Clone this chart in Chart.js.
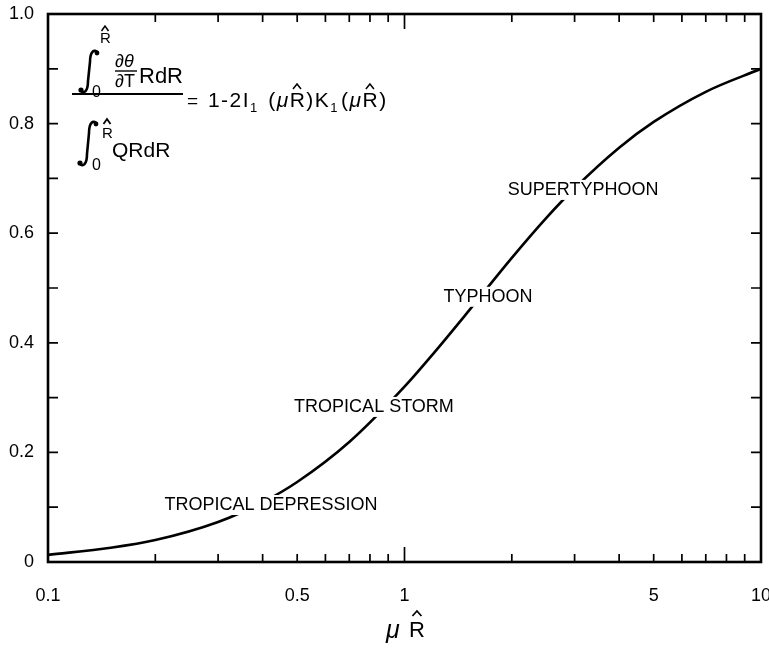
<!DOCTYPE html>
<html>
<head>
<meta charset="utf-8">
<script src="https://cdn.jsdelivr.net/npm/chart.js@4"></script>
<style>
  body { margin: 0; background: #fff; }
  #wrap { width: 769px; height: 653px; }
</style>
</head>
<body>
<div id="wrap"><canvas id="myChart"></canvas></div>
<script>
// values
const muR = [0.1, 0.15, 0.2, 0.3, 0.4, 0.5, 0.7, 1, 1.2, 1.5, 2, 2.5, 3, 4, 5, 7, 10];
const ratio = [0.013, 0.026, 0.040, 0.073, 0.109, 0.146, 0.219, 0.320, 0.379, 0.455, 0.555, 0.628, 0.682, 0.756, 0.803, 0.858, 0.900];

const xTickValues = [0.1, 0.5, 1, 5, 10];
const xTickLabels = ["0.1", "0.5", "1", "5", "10"];
const yTickLabels = ["0", "0.2", "0.4", "0.6", "0.8", "1.0"];

const stageNames = ["TROPICAL DEPRESSION", "TROPICAL STORM", "TYPHOON", "SUPERTYPHOON"];
const stageX = [0.422, 0.821, 1.715, 3.17];
const stageY = [0.104, 0.283, 0.484, 0.679];

const FONT = "'Liberation Sans', Arial, sans-serif";

function hat(ctx, cx, y, w) {
  ctx.beginPath();
  ctx.moveTo(cx - w, y + 5);
  ctx.lineTo(cx, y);
  ctx.lineTo(cx + w, y + 5);
  ctx.stroke();
}

function integral(ctx, x, top, bottom) {
  ctx.save();
  ctx.lineWidth = 2.6;
  ctx.beginPath();
  ctx.moveTo(x - 9, bottom - 3);
  ctx.bezierCurveTo(x - 5, bottom + 2, x - 1, bottom - 2, x - 1, bottom - 12);
  ctx.lineTo(x + 1, top + 12);
  ctx.bezierCurveTo(x + 1, top + 2, x + 5, top - 2, x + 9, top + 3);
  ctx.stroke();
  ctx.beginPath();
  ctx.arc(x - 8, bottom - 3, 2.6, 0, Math.PI * 2);
  ctx.arc(x + 8, top + 3, 2.4, 0, Math.PI * 2);
  ctx.fill();
  ctx.restore();
}

function text(ctx, s, x, y, size, style) {
  ctx.font = (style || "") + " " + size + "px " + FONT;
  ctx.fillText(s, x, y);
  return x + ctx.measureText(s).width;
}

function drawFormula(ctx) {
  ctx.save();
  ctx.fillStyle = "#000";
  ctx.strokeStyle = "#000";
  ctx.lineWidth = 1.5;
  ctx.textBaseline = "alphabetic";
  ctx.textAlign = "left";

  // numerator
  integral(ctx, 89, 50, 93);
  text(ctx, "R", 100, 43, 15);
  hat(ctx, 105, 26, 3.5);
  text(ctx, "0", 92, 97, 16);
  text(ctx, "\u2202\u03b8", 115, 67, 18, "italic");
  ctx.lineWidth = 1.4;
  ctx.beginPath(); ctx.moveTo(115, 71); ctx.lineTo(137, 71); ctx.stroke();
  text(ctx, "\u2202T", 115, 87, 18);
  text(ctx, "RdR", 139, 83, 22);

  // main bar
  ctx.lineWidth = 1.8;
  ctx.beginPath(); ctx.moveTo(72, 94); ctx.lineTo(183, 94); ctx.stroke();

  // denominator
  integral(ctx, 88, 121, 166);
  text(ctx, "R", 102, 138, 15);
  hat(ctx, 107, 119, 3.5);
  text(ctx, "0", 92, 170, 16);
  text(ctx, "QRdR", 112, 157, 21);

  // right-hand side
  ctx.lineWidth = 1.5;
  ctx.letterSpacing = "1.5px";
  let x = text(ctx, "=", 187, 107, 19);
  x = text(ctx, " 1-2I", x + 1, 107, 21);
  x = text(ctx, "1", x, 112, 13);
  x = text(ctx, " (", x + 2, 107, 21);
  x = text(ctx, "\u03bc", x, 107, 21, "italic");
  let rx = x;
  x = text(ctx, "R", x, 107, 21);
  hat(ctx, (rx + x) / 2 - 1, 84, 4);
  x = text(ctx, ")K", x, 107, 21);
  x = text(ctx, "1", x, 112, 13);
  x = text(ctx, "(", x + 2, 107, 21);
  x = text(ctx, "\u03bc", x, 107, 21, "italic");
  rx = x;
  x = text(ctx, "R", x, 107, 21);
  hat(ctx, (rx + x) / 2 - 1, 84, 4);
  text(ctx, ")", x, 107, 21);
  ctx.restore();
}

const framePlugin = {
  id: "frame",
  afterDatasetsDraw(chart) {
    const ctx = chart.ctx;
    const a = chart.chartArea;
    const xs = chart.scales.x;
    const ys = chart.scales.y;

    // stage labels sit on the curve with a white gap
    ctx.save();
    ctx.font = "18px " + FONT;
    ctx.textBaseline = "middle";
    ctx.textAlign = "center";
    for (let i = 0; i < stageNames.length; i++) {
      const px = xs.getPixelForValue(stageX[i]);
      const py = ys.getPixelForValue(stageY[i]);
      const w = ctx.measureText(stageNames[i]).width;
      ctx.fillStyle = "#fff";
      ctx.fillRect(px - w / 2 - 2, py - 10, w + 4, 20);
      ctx.fillStyle = "#000";
      ctx.fillText(stageNames[i], px, py);
    }
    ctx.restore();

    // box
    ctx.save();
    ctx.strokeStyle = "#000";
    ctx.lineWidth = 2.6;
    ctx.strokeRect(a.left, a.top, a.right - a.left, a.bottom - a.top);

    // inward ticks
    ctx.lineWidth = 1.7;
    ctx.beginPath();
    for (let d = 0.1; d < 10; d *= 10) {
      for (let k = 1; k <= 9; k++) {
        const v = d * k;
        if (v <= 0.1 + 1e-9) continue;
        const px = xs.getPixelForValue(v);
        const len = k === 1 ? 15 : 8;
        ctx.moveTo(px, a.bottom); ctx.lineTo(px, a.bottom - len);
        ctx.moveTo(px, a.top); ctx.lineTo(px, a.top + len);
      }
    }
    for (let k = 1; k <= 9; k++) {
      const py = ys.getPixelForValue(k / 10);
      ctx.moveTo(a.left, py); ctx.lineTo(a.left + 10, py);
      ctx.moveTo(a.right, py); ctx.lineTo(a.right - 10, py);
    }
    ctx.stroke();
    ctx.restore();

    drawFormula(ctx);

    // axis title
    ctx.save();
    ctx.fillStyle = "#000";
    ctx.strokeStyle = "#000";
    ctx.lineWidth = 1.7;
    ctx.textBaseline = "alphabetic";
    text(ctx, "\u03bc", 386, 638, 25, "italic");
    const r0 = 409;
    const r1 = text(ctx, "R", r0, 637, 22);
    hat(ctx, (r0 + r1) / 2, 611, 4.5);
    ctx.restore();
  }
};

const ctx = document.querySelector("#myChart").getContext("2d");

new Chart(ctx, {
  type: "line",
  data: {
    datasets: [
      {
        data: muR.map((v, i) => ({ x: v, y: ratio[i] })),
        borderColor: "#000",
        borderWidth: 2.6,
        pointRadius: 0,
        cubicInterpolationMode: "monotone",
        fill: false,
      },
    ],
  },
  options: {
    responsive: true,
    maintainAspectRatio: false,
    animation: false,
    layout: { padding: { top: 14, right: 8, left: 0, bottom: 0 } },
    plugins: { legend: { display: false }, tooltip: { enabled: false } },
    scales: {
      x: {
        type: "logarithmic",
        min: 0.1,
        max: 10,
        grid: { display: false },
        border: { display: false },
        afterFit: (s) => {
          s.height = 91;
          s.paddingLeft = 0;
          s.paddingRight = 0;
        },
        ticks: {
          autoSkip: false,
          maxRotation: 0,
          padding: 15,
          color: "#000",
          font: { family: FONT, size: 18 },
          callback: (v) => {
            const i = xTickValues.findIndex((t) => Math.abs(t - v) < t * 1e-6);
            return i >= 0 ? xTickLabels[i] : "";
          },
        },
      },
      y: {
        min: 0,
        max: 1,
        grid: { display: false },
        border: { display: false },
        afterFit: (s) => {
          s.width = 48;
          s.paddingTop = 0;
          s.paddingBottom = 0;
        },
        ticks: {
          stepSize: 0.2,
          padding: 6,
          color: "#000",
          font: { family: FONT, size: 18 },
          callback: (v) => yTickLabels[Math.round(v * 5)],
        },
      },
    },
  },
  plugins: [framePlugin],
});
</script>
</body>
</html>
